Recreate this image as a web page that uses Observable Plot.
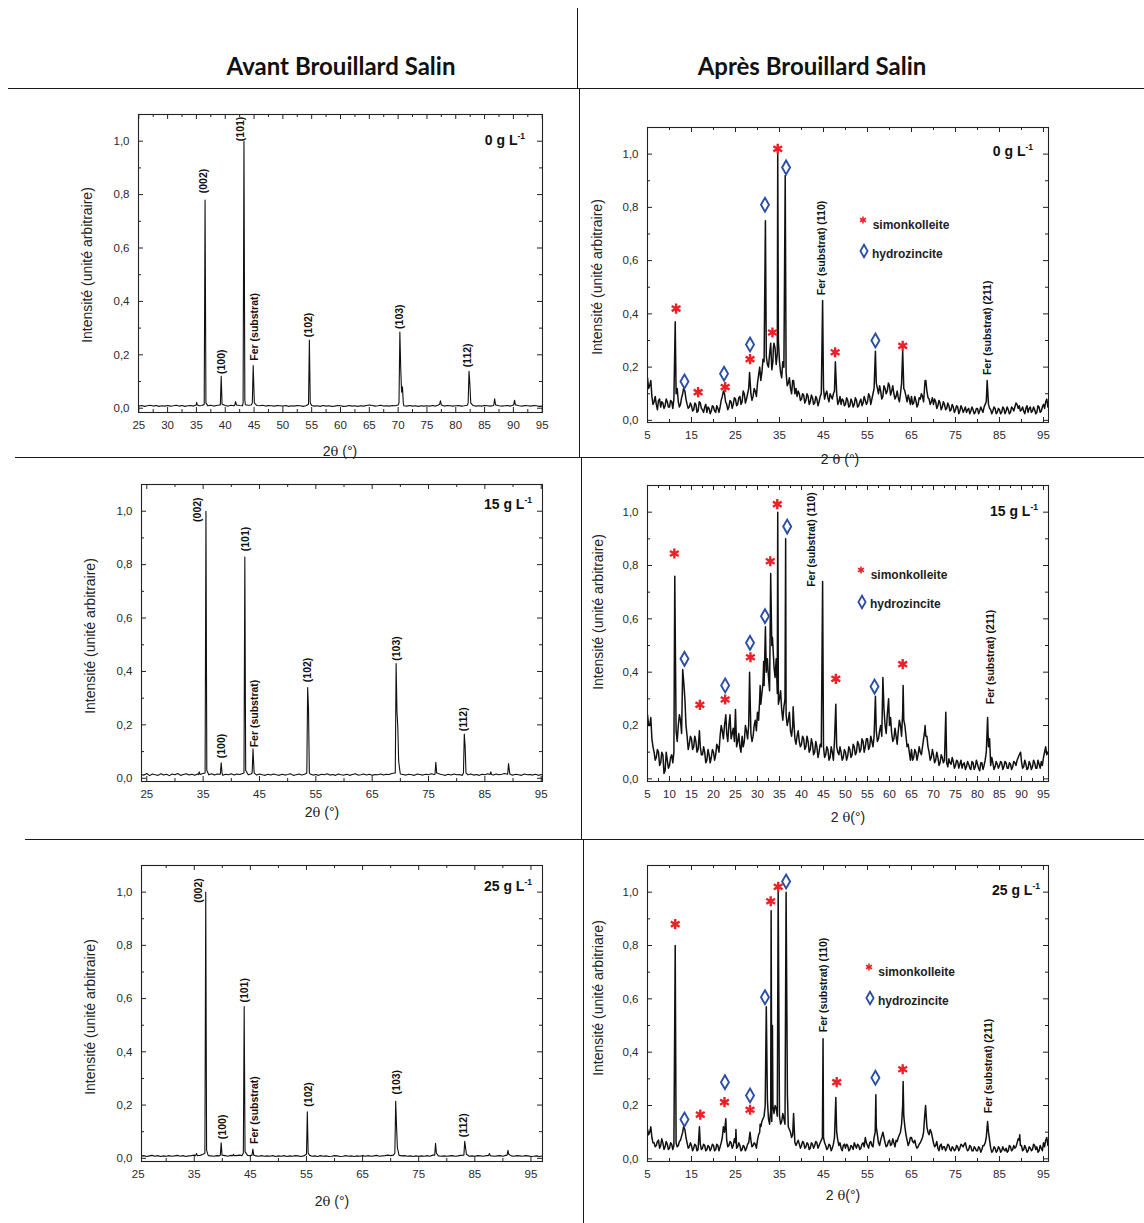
<!DOCTYPE html>
<html><head><meta charset="utf-8">
<script src="https://cdn.jsdelivr.net/npm/d3@7"></script>
<script src="https://cdn.jsdelivr.net/npm/@observablehq/plot@0.6"></script>
<style>
body{margin:0;background:#fff;}
#page{position:relative;width:1144px;height:1223px;background:#fff;font-family:"Liberation Sans",Arial,sans-serif;color:#222;overflow:hidden;}
.hl{position:absolute;height:0;border-top:1.6px solid #1a1a1a;}
.vl{position:absolute;width:0;border-left:1.6px solid #1a1a1a;}
.title{position:absolute;font-family:Lato,"Open Sans",sans-serif;font-weight:700;font-size:24px;white-space:nowrap;transform:translate(-50%,-50%);color:#111;}
.ylab{position:absolute;font-size:14px;white-space:nowrap;transform:translate(-50%,-50%) rotate(-90deg);color:#222;}
.xlab{position:absolute;font-size:14px;white-space:nowrap;transform:translate(-50%,-50%);color:#222;}
.th{font-family:"DejaVu Serif","Liberation Serif",serif;font-size:13px;}
.conc{position:absolute;width:200px;text-align:right;font-weight:700;font-size:14px;line-height:14px;white-space:nowrap;color:#111;}
.conc span{font-size:8.5px;position:relative;top:-6px;}
.leg{position:absolute;font-weight:700;font-size:12px;white-space:nowrap;transform:translateY(-50%);color:#222;}
.sym{position:absolute;transform:translate(-50%,-50%);}
.panel{position:absolute;}
</style></head><body><div id="page"></div>
<script>
// ---------- DATA ----------
// Scan grid (2θ step) of the measured traces
const beforeStep = 0.5;
const afterStart = 5, afterStep = 0.5, afterMidStart = 5.25;

// Avant brouillard salin : background (baseline) intensity on the scan grid
const bgBefore0Start = 25;
const bgBefore0 = [
 .008,.010,.007,.009,.011,.008,.010,.007,.009,.008,
 .010,.008,.009,.011,.008,.010,.007,.009,.010,.008,
 .012,.009,.010,.008,.009,.011,.008,.010,.012,.009,
 .010,.008,.011,.009,.012,.010,.009,.013,.011,.012,
 .014,.010,.009,.011,.008,.010,.009,.008,.010,.009,
 .008,.010,.007,.009,.008,.010,.009,.007,.009,.010,
 .010,.008,.009,.007,.010,.008,.009,.007,.008,.010,
 .009,.007,.008,.010,.008,.009,.007,.009,.008,.010,
 .012,.010,.008,.009,.011,.008,.009,.008,.010,.009,
 .012,.011,.009,.008,.010,.008,.009,.007,.009,.008,
 .009,.008,.010,.008,.012,.009,.008,.010,.009,.008,
 .009,.010,.008,.009,.011,.012,.010,.008,.009,.008,
 .010,.009,.008,.010,.012,.009,.008,.009,.010,.008,
 .011,.012,.009,.008,.010,.009,.008,.010,.009,.007,
 .008];
const peaksBefore0 = [
 [34.95,.012],[35.05,.022],[35.15,.012],
 [36.35,.015],[36.5,.78],[36.65,.02],
 [39.15,.012],[39.3,.12],[39.45,.015],
 [41.65,.012],[41.8,.025],[41.95,.012],
 [43.1,.02],[43.25,1.0],[43.4,.03],
 [44.7,.02],[44.85,.16],[45.05,.02],
 [54.45,.015],[54.6,.255],[54.75,.02],
 [70.15,.02],[70.3,.285],[70.45,.15],[70.6,.06],[70.75,.08],[70.9,.02],
 [77.2,.015],[77.35,.028],[77.5,.012],
 [82.15,.02],[82.3,.138],[82.45,.09],[82.6,.02],
 [86.6,.012],[86.75,.035],[86.9,.012],
 [90.05,.012],[90.2,.03],[90.35,.012]];
const labelsBefore0 = [
 [36.3,.805,"(002)"],[39.3,.128,"(100)"],[42.6,1.0,"(101)"],[45.07,.178,"Fer (substrat)"],
 [54.55,.266,"(102)"],[70.2,.297,"(103)"],[82.1,.153,"(112)"]];

const bgBefore15Start = 24;
const bgBefore15 = [
 .014,.012,.018,.010,.016,.013,.011,.017,.012,.015,
 .010,.016,.013,.018,.011,.014,.017,.012,.015,.011,
 .016,.020,.018,.014,.013,.017,.012,.016,.014,.011,
 .015,.013,.017,.012,.016,.014,.018,.015,.013,.016,
 .014,.012,.016,.013,.011,.015,.012,.016,.013,.011,
 .015,.012,.014,.017,.011,.013,.016,.012,.015,.013,
 .016,.012,.014,.011,.015,.013,.017,.012,.014,.011,
 .016,.013,.012,.015,.011,.014,.017,.012,.013,.016,
 .012,.015,.011,.014,.013,.016,.012,.015,.014,.018,
 .020,.022,.016,.014,.012,.015,.013,.011,.016,.014,
 .012,.015,.013,.017,.014,.012,.016,.013,.011,.015,
 .012,.016,.013,.014,.011,.015,.013,.016,.012,.014,
 .011,.015,.013,.017,.014,.012,.016,.013,.015,.018,
 .016,.014,.012,.015,.013,.011,.016,.013,.014,.012,
 .015,.011,.014,.012];
const peaksBefore15 = [
 [34.15,.014],[34.3,.024],[34.45,.014],
 [35.35,.02],[35.5,1.0],[35.65,.03],
 [38.05,.015],[38.2,.058],[38.35,.02],
 [42.25,.02],[42.4,.828],[42.55,.03],
 [43.7,.02],[43.85,.11],[44.05,.02],
 [53.4,.02],[53.55,.34],[53.7,.26],[53.85,.02],
 [69.1,.02],[69.25,.43],[69.4,.25],[69.55,.19],[69.7,.065],[69.9,.03],
 [76.15,.015],[76.3,.06],[76.45,.02],
 [81.2,.02],[81.35,.166],[81.5,.12],[81.65,.02],
 [85.9,.014],[86.05,.024],[86.2,.014],
 [89.05,.015],[89.2,.055],[89.4,.02]];
const labelsBefore15 = [
 [34.1,.96,"(002)"],[38.2,.075,"(100)"],[42.6,.85,"(101)"],[44.1,.116,"Fer (substrat)"],
 [53.6,.36,"(102)"],[69.3,.44,"(103)"],[81.3,.176,"(112)"]];

const bgBefore25Start = 25.5;
const bgBefore25 = [
 .008,.010,.007,.009,.011,.008,.010,.007,.009,.008,
 .010,.008,.009,.011,.008,.010,.007,.009,.010,.012,
 .010,.011,.014,.012,.010,.009,.008,.010,.009,.008,
 .010,.008,.011,.009,.010,.012,.010,.009,.011,.010,
 .012,.009,.008,.010,.008,.009,.008,.010,.007,.009,
 .008,.010,.007,.009,.008,.010,.009,.007,.009,.010,
 .012,.008,.009,.007,.010,.008,.009,.007,.008,.010,
 .009,.007,.008,.010,.008,.009,.007,.009,.008,.010,
 .008,.010,.008,.009,.011,.008,.009,.010,.012,.010,
 .012,.014,.011,.009,.010,.008,.009,.007,.009,.008,
 .009,.008,.010,.008,.012,.010,.009,.008,.009,.008,
 .009,.010,.008,.009,.011,.012,.010,.008,.009,.008,
 .010,.009,.008,.010,.011,.009,.008,.009,.010,.008,
 .011,.010,.009,.008,.010,.009,.008,.010,.009,.007,
 .008,.009,.007,.009];
const peaksBefore25 = [
 [35.25,.01],[35.4,.018],[35.55,.01],
 [36.9,.02],[37.05,1.0],[37.2,.03],
 [39.65,.012],[39.8,.058],[39.95,.012],
 [41.9,.01],[42.0,.015],[42.1,.01],
 [43.75,.02],[43.9,.57],[44.05,.025],
 [45.3,.012],[45.45,.035],[45.6,.012],
 [55.0,.015],[55.15,.175],[55.3,.02],
 [70.75,.02],[70.9,.214],[71.05,.12],[71.2,.04],[71.4,.02],
 [77.85,.012],[78.0,.056],[78.15,.02],
 [83.05,.012],[83.2,.064],[83.35,.04],[83.5,.015],
 [87.45,.01],[87.6,.018],[87.75,.01],
 [90.75,.012],[90.9,.03],[91.05,.015]];
const labelsBefore25 = [
 [35.7,.96,"(002)"],[40.0,.072,"(100)"],[44.0,.585,"(101)"],[45.76,.054,"Fer (substrat)"],
 [55.4,.194,"(102)"],[71.0,.24,"(103)"],[83.0,.079,"(112)"]];

// Après brouillard salin : background on the 5–96° grid, plus the in-between readings (5.25–95.75°)
const bgAfter0 = [
 .16,.13,.09,.07,.06,.075,.05,.065,.055,.07,
 .05,.07,.08,.1,.07,.06,.1,.11,.06,.05,
 .055,.04,.06,.035,.065,.04,.05,.03,.045,.035,
 .05,.03,.045,.05,.09,.1,.06,.05,.07,.06,
 .08,.06,.09,.07,.1,.08,.12,.1,.09,.11,
 .14,.2,.18,.22,.24,.2,.27,.22,.27,.25,
 .22,.16,.2,.18,.14,.12,.15,.1,.09,.1,
 .08,.095,.075,.09,.07,.085,.065,.08,.07,.1,
 .12,.1,.085,.1,.08,.11,.1,.07,.06,.075,
 .06,.075,.055,.07,.06,.075,.055,.08,.065,.075,
 .07,.09,.08,.12,.14,.1,.11,.09,.12,.11,
 .13,.11,.1,.09,.085,.1,.13,.11,.07,.08,
 .09,.065,.075,.06,.08,.09,.13,.11,.08,.07,
 .06,.07,.055,.065,.05,.06,.045,.055,.04,.05,
 .04,.05,.035,.045,.04,.03,.045,.035,.04,.03,
 .045,.035,.04,.05,.07,.06,.04,.035,.045,.03,
 .04,.03,.045,.035,.04,.03,.045,.05,.06,.055,
 .04,.035,.045,.03,.05,.035,.04,.03,.05,.035,
 .06,.07,.05];
const midAfter0 = [
 .12,.15,.06,.09,.04,.08,.07,.045,.08,.05,
 .075,.045,.09,.12,.05,.085,.12,.08,.045,.065,
 .035,.065,.03,.07,.045,.03,.06,.05,.025,.055,
 .035,.055,.03,.075,.11,.07,.04,.075,.045,.085,
 .055,.085,.06,.11,.065,.1,.14,.075,.12,.09,
 .17,.15,.23,.19,.21,.25,.19,.29,.21,.3,
 .18,.22,.15,.13,.16,.1,.13,.12,.11,.075,
 .1,.065,.1,.06,.095,.06,.09,.055,.09,.13,
 .08,.11,.07,.09,.1,.085,.06,.09,.08,.055,
 .085,.05,.08,.05,.085,.05,.07,.055,.09,.06,
 .1,.06,.1,.09,.12,.13,.08,.13,.1,.14,
 .095,.13,.08,.11,.07,.14,.12,.09,.095,.06,
 .06,.09,.05,.085,.1,.07,.15,.085,.06,.085,
 .08,.045,.075,.04,.07,.04,.065,.035,.06,.03,
 .055,.025,.055,.03,.05,.04,.025,.05,.025,.045,
 .025,.05,.03,.06,.1,.045,.025,.05,.025,.045,
 .025,.05,.025,.05,.025,.05,.035,.065,.045,.035,
 .05,.025,.055,.045,.03,.05,.025,.055,.03,.05,
 .045,.08];
const peaksAfter0 = [[11.3,.37],[13.2,.12],[28.2,.18],[31.8,.75],[33.0,.29],[33.6,.27],[34.6,1.0],
 [36.3,.92],[38.2,.15],[44.8,.45],[47.7,.22],[56.8,.26],[63.0,.26],[68.1,.15],[82.2,.15]];
const starsAfter0 = [[11.5,.42],[16.5,.106],[22.65,.125],[28.3,.23],[33.4,.33],[34.6,1.02],[47.65,.256],[63,.28]];
const diamondsAfter0 = [[13.4,.146],[22.4,.175],[28.3,.285],[31.7,.81],[36.5,.95],[56.8,.30]];
const labelsAfter0 = [[44.5,.47,"Fer (substrat) (110)"],[82.4,.17,"Fer (substrat) (211)"]];

const bgAfter15 = [
 .24,.2,.15,.1,.08,.1,.06,.09,.03,.07,
 .05,.09,.1,.18,.2,.22,.38,.3,.16,.13,
 .15,.12,.14,.11,.12,.09,.1,.07,.09,.08,
 .1,.09,.12,.16,.18,.2,.17,.2,.15,.19,
 .17,.14,.12,.16,.14,.18,.2,.17,.16,.22,
 .25,.3,.32,.35,.4,.38,.45,.5,.38,.32,
 .3,.26,.27,.24,.22,.18,.2,.15,.16,.14,
 .13,.15,.12,.14,.11,.13,.1,.12,.1,.12,
 .12,.09,.11,.08,.1,.14,.12,.09,.1,.08,
 .1,.085,.11,.09,.12,.1,.13,.11,.14,.12,
 .15,.12,.14,.16,.18,.15,.2,.22,.2,.24,
 .2,.17,.15,.16,.18,.2,.25,.2,.12,.1,
 .11,.08,.1,.09,.1,.12,.18,.16,.1,.08,
 .09,.07,.08,.06,.08,.07,.06,.075,.055,.065,
 .05,.065,.055,.04,.06,.045,.055,.035,.06,.045,
 .055,.03,.06,.05,.1,.12,.05,.06,.045,.055,
 .05,.06,.045,.06,.04,.055,.045,.06,.07,.09,
 .065,.045,.055,.04,.055,.045,.06,.04,.055,.065,
 .08,.12,.1];
const midAfter15 = [
 .2,.23,.12,.07,.11,.05,.1,.02,.1,.04,
 .08,.06,.13,.14,.24,.17,.36,.2,.11,.16,
 .11,.16,.1,.15,.09,.12,.06,.11,.06,.11,
 .07,.13,.1,.2,.15,.23,.14,.24,.17,.14,
 .12,.17,.1,.12,.2,.15,.24,.14,.2,.18,
 .22,.28,.36,.3,.45,.33,.5,.42,.45,.28,
 .33,.22,.3,.2,.25,.16,.22,.13,.18,.12,
 .16,.11,.16,.1,.15,.09,.14,.08,.13,.15,
 .08,.12,.07,.12,.07,.2,.1,.12,.07,.11,
 .07,.12,.08,.13,.09,.14,.1,.15,.1,.15,
 .11,.16,.12,.2,.14,.18,.16,.26,.17,.22,
 .23,.14,.19,.13,.22,.16,.22,.16,.13,.07,
 .07,.11,.07,.12,.09,.15,.16,.12,.07,.11,
 .06,.1,.05,.09,.06,.1,.045,.06,.08,.04,
 .07,.04,.07,.055,.035,.065,.04,.065,.035,.07,
 .04,.06,.035,.07,.1,.15,.08,.035,.065,.04,
 .065,.035,.065,.04,.06,.035,.065,.05,.08,.08,
 .04,.07,.035,.065,.035,.07,.04,.07,.04,.05,
 .1,.09];
const peaksAfter15 = [[11.2,.76],[13.0,.41],[16.8,.18],[22.8,.24],[25.0,.26],[28.2,.4],[30.6,.35],[31.4,.44],
 [31.8,.57],[33.0,.77],[33.4,.53],[34.6,1.0],[36.4,.9],[38.1,.27],[44.8,.74],[47.8,.28],[56.8,.31],
 [58.5,.38],[59.8,.3],[63.1,.35],[68.1,.2],[72.8,.25],[82.3,.23],[89.8,.1]];
const starsAfter15 = [[11.1,.845],[16.9,.2775],[22.65,.2975],[28.4,.456],[32.9,.816],[34.5,1.03],[47.8,.375],[63,.43]];
const diamondsAfter15 = [[13.4,.45],[22.65,.35],[28.3,.51],[31.7,.61],[36.75,.946],[56.6,.346]];
const labelsAfter15 = [[42.3,.72,"Fer (substrat) (110)"],[82.9,.28,"Fer (substrat) (211)"]];

const bgAfter25 = [
 .11,.1,.08,.06,.05,.07,.05,.06,.045,.055,
 .04,.055,.05,.06,.05,.07,.1,.11,.06,.045,
 .05,.04,.05,.035,.055,.04,.05,.035,.045,.04,
 .05,.035,.05,.045,.08,.1,.07,.05,.06,.05,
 .06,.045,.05,.035,.045,.04,.06,.07,.05,.055,
 .07,.1,.14,.16,.3,.15,.18,.2,.14,.16,
 .16,.14,.15,.2,.12,.1,.09,.06,.06,.055,
 .05,.06,.045,.055,.04,.055,.05,.06,.05,.07,
 .08,.05,.04,.05,.04,.08,.1,.05,.04,.05,
 .04,.05,.035,.045,.06,.04,.05,.04,.06,.08,
 .05,.06,.05,.08,.12,.06,.07,.1,.06,.05,
 .07,.055,.06,.07,.08,.1,.2,.12,.07,.06,
 .08,.06,.05,.045,.06,.08,.16,.12,.09,.1,
 .06,.05,.04,.05,.035,.045,.04,.05,.03,.04,
 .035,.045,.04,.05,.055,.04,.035,.045,.03,.04,
 .03,.04,.035,.05,.08,.1,.04,.03,.04,.03,
 .04,.03,.035,.04,.03,.045,.035,.04,.06,.07,
 .05,.035,.04,.03,.04,.035,.05,.045,.03,.04,
 .06,.07,.05];
const midAfter25 = [
 .09,.12,.06,.045,.065,.04,.075,.035,.065,.035,
 .06,.035,.065,.045,.065,.085,.12,.08,.04,.06,
 .03,.055,.03,.06,.035,.055,.03,.05,.03,.055,
 .03,.055,.03,.06,.12,.07,.045,.065,.04,.075,
 .04,.06,.03,.05,.03,.055,.075,.045,.06,.04,
 .09,.12,.15,.2,.22,.13,.14,.17,.19,.13,
 .13,.17,.13,.16,.11,.08,.12,.05,.07,.04,
 .065,.04,.06,.035,.06,.04,.065,.04,.06,.08,
 .06,.035,.055,.03,.055,.07,.07,.06,.03,.055,
 .055,.03,.05,.035,.05,.055,.035,.055,.045,.06,
 .04,.065,.045,.1,.09,.05,.085,.08,.045,.065,
 .05,.075,.045,.065,.09,.13,.16,.09,.05,.08,
 .065,.07,.04,.055,.07,.1,.14,.1,.11,.08,
 .045,.065,.03,.055,.045,.03,.055,.035,.045,.03,
 .05,.03,.055,.045,.06,.03,.05,.03,.045,.03,
 .045,.025,.05,.06,.1,.07,.025,.045,.025,.045,
 .025,.045,.03,.025,.05,.03,.05,.045,.075,.05,
 .03,.05,.025,.045,.03,.055,.035,.025,.05,.03,
 .045,.08];
const peaksAfter25 = [[11.3,.8],[13.2,.12],[16.8,.12],[22.8,.15],[25.1,.11],[28.3,.1],[30.6,.13],[32.0,.57],
 [33.1,.93],[33.4,.5],[34.0,.2],[34.7,1.0],[36.5,1.0],[36.8,.24],[38.2,.17],[44.9,.45],[47.8,.23],
 [54.5,.08],[56.9,.24],[58.5,.1],[63.1,.29],[68.2,.2],[82.3,.14],[89.6,.09]];
const starsAfter25 = [[11.3,.88],[17,.166],[22.5,.2125],[28.3,.184],[33,.966],[34.7,1.02],[48,.2875],[63,.336]];
const diamondsAfter25 = [[13.4,.1475],[22.6,.2875],[28.3,.2375],[31.7,.606],[36.5,1.04],[56.8,.304]];
const labelsAfter25 = [[45.0,.475,"Fer (substrat) (110)"],[82.6,.171,"Fer (substrat) (211)"]];

// Axis ticks
const yTicks = [0, 0.2, 0.4, 0.6, 0.8, 1.0];
const yMinor = [0.1, 0.3, 0.5, 0.7, 0.9];
const xTicksB0 = [25,30,35,40,45,50,55,60,65,70,75,80,85,90,95];
const xMinorB0 = [27.5,32.5,37.5,42.5,47.5,52.5,57.5,62.5,67.5,72.5,77.5,82.5,87.5,92.5];
const xTicksB = [25,35,45,55,65,75,85,95];
const xMinorB = [30,40,50,60,70,80,90];
const xTicksA = [5,15,25,35,45,55,65,75,85,95];
const xMinorA = [10,20,30,40,50,60,70,80,90];
const xTicksA15 = [5,10,15,20,25,30,35,40,45,50,55,60,65,70,75,80,85,90,95];
const xMinorA15 = [7.5,12.5,17.5,22.5,27.5,32.5,37.5,42.5,47.5,52.5,57.5,62.5,67.5,72.5,77.5,82.5,87.5,92.5];

const titles = ["Avant Brouillard Salin", "Après Brouillard Salin"];
const concentrations = ["0", "15", "25"];

// ---------- BUILD ----------
function trace(start, step, bg, peaks, midStart, mid) {
  let grid = bg.map((y, i) => ({x: start + i * step, y}));
  if (mid) grid = grid.concat(mid.map((y, i) => ({x: midStart + i * step, y})));
  const pk = peaks.map(([x, y]) => ({x, y}));
  const kept = grid.filter(g => !pk.some(p => Math.abs(p.x - g.x) < 0.06));
  return kept.concat(pk).sort((a, b) => a.x - b.x);
}
const obj = arr => arr.map(([x, y, t]) => ({x, y, t}));
const fmt = d => d.toFixed(1).replace(".", ",");

function panel(c) {
  const mL = 50, mR = 14, mT = 26, mB = 28;
  const fw = c.R - c.L, fh = c.B - c.T;
  const inX = v => v >= c.xd[0] && v <= c.xd[1];
  const ink = "#222";
  const marks = [
    Plot.ruleX(c.xt.filter(inX), {insetTop: fh - 5, stroke: ink}),
    Plot.ruleX(c.xt.filter(inX), {insetBottom: fh - 5, stroke: ink}),
    Plot.ruleX(c.xm.filter(inX), {insetTop: fh - 3, stroke: ink}),
    Plot.ruleX(c.xm.filter(inX), {insetBottom: fh - 3, stroke: ink}),
    Plot.ruleY(yTicks, {insetRight: fw - 5, stroke: ink}),
    Plot.ruleY(yTicks, {insetLeft: fw - 5, stroke: ink}),
    Plot.ruleY(yMinor, {insetRight: fw - 3, stroke: ink}),
    Plot.ruleY(yMinor, {insetLeft: fw - 3, stroke: ink}),
    Plot.axisX(c.xt, {tickSize: 0, tickPadding: 8, label: null, fill: "#2a2a2a"}),
    Plot.axisY(yTicks, {tickSize: 0, tickPadding: 9, tickFormat: fmt, label: null, fill: "#2a2a2a"}),
    Plot.line(c.data, {x: "x", y: "y", stroke: "#111", strokeWidth: c.lw, clip: true}),
    Plot.text(obj(c.labels), {x: "x", y: "y", text: "t", rotate: -90, textAnchor: "start", lineAnchor: "middle",
      fontWeight: "bold", fontSize: 10.5, fill: "#111"}),
    Plot.frame({stroke: ink, strokeWidth: 1.1})
  ];
  if (c.stars) marks.push(Plot.dot(obj(c.stars), {x: "x", y: "y", symbol: "asterisk", r: 4.8, stroke: "#ec2027", strokeWidth: 2.4}));
  if (c.dias) marks.push(Plot.dot(obj(c.dias), {x: "x", y: "y", symbol: "diamond", r: 4.2, stroke: "#2a4ea6", fill: "white", strokeWidth: 1.9}));
  const svg = Plot.plot({
    width: fw + mL + mR, height: fh + mT + mB,
    marginLeft: mL, marginRight: mR, marginTop: mT, marginBottom: mB,
    x: {domain: c.xd, label: null}, y: {domain: c.yd, label: null},
    style: {fontFamily: '"Liberation Sans", Arial, sans-serif', fontSize: "11.5px", background: "transparent", color: "#222", overflow: "visible"},
    marks
  });
  const div = document.createElement("div");
  div.className = "panel";
  div.style.left = (c.L - mL) + "px";
  div.style.top = (c.T - mT) + "px";
  div.appendChild(svg);
  page.appendChild(div);
}

const page = document.getElementById("page");
function add(html) { page.insertAdjacentHTML("beforeend", html); }

// Frame lines of the figure
add(`<div class="hl" style="left:8px;top:88px;width:1136px"></div>`);
add(`<div class="hl" style="left:15px;top:457px;width:1129px"></div>`);
add(`<div class="hl" style="left:25px;top:839px;width:1119px"></div>`);
add(`<div class="vl" style="left:577px;top:8px;height:81px"></div>`);
add(`<div class="vl" style="left:579px;top:89px;height:369px"></div>`);
add(`<div class="vl" style="left:581px;top:458px;height:382px"></div>`);
add(`<div class="vl" style="left:583px;top:840px;height:383px"></div>`);

add(`<div class="title" style="left:341px;top:65px">${titles[0]}</div>`);
add(`<div class="title" style="left:812px;top:65px">${titles[1]}</div>`);

const panels = [
  {L:138,R:542,T:114,B:412,xd:[24.95,95.05],yd:[-0.016,1.1],xt:xTicksB0,xm:xMinorB0,lw:1.1,
   data:trace(bgBefore0Start,beforeStep,bgBefore0,peaksBefore0),labels:labelsBefore0},
  {L:647,R:1048,T:127,B:422,xd:[5,96.14],yd:[-0.008,1.1],xt:xTicksA,xm:xMinorA,lw:1.5,
   data:trace(afterStart,afterStep,bgAfter0,peaksAfter0,afterMidStart,midAfter0),labels:labelsAfter0,stars:starsAfter0,dias:diamondsAfter0},
  {L:141,R:542,T:484,B:781,xd:[24.06,95.23],yd:[-0.012,1.1],xt:xTicksB,xm:xMinorB,lw:1.1,
   data:trace(bgBefore15Start,beforeStep,bgBefore15,peaksBefore15),labels:labelsBefore15},
  {L:647,R:1048,T:485,B:781,xd:[5,96.14],yd:[-0.01,1.1],xt:xTicksA15,xm:xMinorA15,lw:1.5,
   data:trace(afterStart,afterStep,bgAfter15,peaksAfter15,afterMidStart,midAfter15),labels:labelsAfter15,stars:starsAfter15,dias:diamondsAfter15},
  {L:141,R:542,T:865,B:1161,xd:[25.6,97.06],yd:[-0.012,1.1],xt:xTicksB,xm:xMinorB,lw:1.1,
   data:trace(bgBefore25Start,beforeStep,bgBefore25,peaksBefore25),labels:labelsBefore25},
  {L:647,R:1048,T:865,B:1161,xd:[5,96.14],yd:[-0.01,1.1],xt:xTicksA,xm:xMinorA,lw:1.5,
   data:trace(afterStart,afterStep,bgAfter25,peaksAfter25,afterMidStart,midAfter25),labels:labelsAfter25,stars:starsAfter25,dias:diamondsAfter25}
];
panels.forEach(panel);

// Axis titles
const yl = "Intensité (unité arbitraire)";
[[87,265,yl],[597,277,yl],[90,636,yl],[598,612,yl],[90,1017,yl],[598,998,"Intensité (unité arbitriare)"]]
  .forEach(([x,y,t]) => add(`<div class="ylab" style="left:${x}px;top:${y}px">${t}</div>`));
[[340,451,'2<span class="th">θ</span> (°)'],[840,459,'2 <span class="th">θ</span> (°)'],
 [322,812,'2<span class="th">θ</span> (°)'],[848,817,'2 <span class="th">θ</span>(°)'],
 [332,1201,'2<span class="th">θ</span> (°)'],[843,1195,'2 <span class="th">θ</span>(°)']]
  .forEach(([x,y,t]) => add(`<div class="xlab" style="left:${x}px;top:${y}px">${t}</div>`));

// Concentration labels
[[525,145,0],[1033,156,0],[532,509,1],[1038,516,1],[532,891,2],[1040,895,2]]
  .forEach(([r,b,i]) => add(`<div class="conc" style="left:${r-200}px;top:${b-12}px">${concentrations[i]} g L<span>-1</span></div>`));

// Legends (Après)
const starSvg = `<svg width="10" height="10" viewBox="-5 -5 10 10"><g stroke="#ec2027" stroke-width="1.6"><line x1="0" y1="-3.5" x2="0" y2="3.5"/><line x1="-3" y1="-1.8" x2="3" y2="1.8"/><line x1="-3" y1="1.8" x2="3" y2="-1.8"/></g></svg>`;
const diaSvg = `<svg width="12" height="16" viewBox="-6 -8 12 16"><path d="M0,-6.3L3.6,0L0,6.3L-3.6,0Z" fill="white" stroke="#2a4ea6" stroke-width="1.8"/></svg>`;
[[862.7,220,872.7,225,863.7,253.3,872,254.3],[861,570,870.7,575,862,604,870,604.3],[869,967.3,878.3,971.7,870,1000,878,1000.7]]
  .forEach(([sx,sy,tx,ty,dx,dy,ux,uy]) => {
    add(`<div class="sym" style="left:${sx}px;top:${sy}px">${starSvg}</div>`);
    add(`<div class="leg" style="left:${tx}px;top:${ty}px">simonkolleite</div>`);
    add(`<div class="sym" style="left:${dx}px;top:${dy}px">${diaSvg}</div>`);
    add(`<div class="leg" style="left:${ux}px;top:${uy}px">hydrozincite</div>`);
  });
</script></body></html>
